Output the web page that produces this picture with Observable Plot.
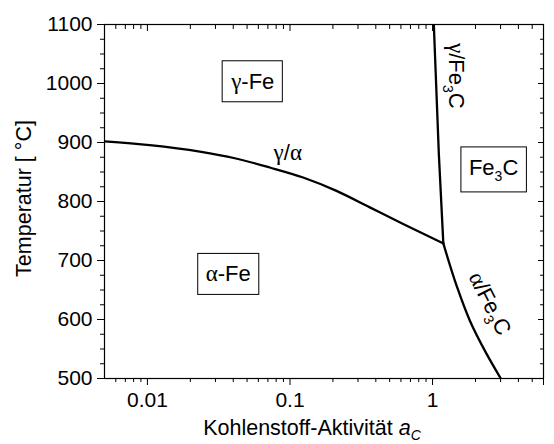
<!DOCTYPE html>
<html>
<head>
<meta charset="utf-8">
<script src="https://cdn.jsdelivr.net/npm/d3@7"></script>
<script src="https://cdn.jsdelivr.net/npm/@observablehq/plot@0.6"></script>
<style>
  body { margin: 0; background: #fff; }
  #chart svg { font-family: "Liberation Sans", Arial, sans-serif; }
</style>
</head>
<body>
<div id="chart"></div>
<script>
// Fe–C phase boundaries: carbon activity a_C against temperature (°C)
const gammaAlphaAc = [0.005, 0.0104, 0.0233, 0.041, 0.0722, 0.1236, 0.212, 0.363, 0.622, 1.19];
const gammaAlphaT  = [902, 895.5, 884.5, 873.3, 857.6, 840.7, 818, 790, 762, 729];

const gammaCementiteAc = [1.021, 1.107, 1.19];
const gammaCementiteT  = [1100, 880, 729];

const alphaCementiteAc = [1.19, 1.488, 1.827, 2.393, 3.01];
const alphaCementiteT  = [729, 654.5, 598, 541.8, 500];

// axis ticks
const xMajorTicks = [0.01, 0.1, 1, 6];
const xTickLabels = ["0.01", "0.1", "1", "6"];
const xMinorTicks = [0.006, 0.007, 0.008, 0.009,
                     0.02, 0.03, 0.04, 0.05, 0.06, 0.07, 0.08, 0.09,
                     0.2, 0.3, 0.4, 0.5, 0.6, 0.7, 0.8, 0.9,
                     2, 3, 4, 5];
const yMajorTicks = [500, 600, 700, 800, 900, 1000, 1100];
const yMinorTicks = [525, 550, 575, 625, 650, 675, 725, 750, 775,
                     825, 850, 875, 925, 950, 975, 1025, 1050, 1075];

// phase-field labels (boxed) and boundary labels
// markup: _X subscript, ~X italic, Greek letters set in a serif face
const regionText = ["γ-Fe", "α-Fe", "Fe_3C"];
const regionAc   = [0.0548, 0.0369, 2.68];
const regionT    = [1003, 676.5, 857];

const boundaryText  = ["γ/α", "γ/Fe_3C", "α/Fe_3C"];
const boundaryAc    = [0.0965, 1.46, 2.52];
const boundaryT     = [882.5, 1013, 627];
const boundaryAngle = [0, 90, 63];

const xTitle = "Kohlenstoff-Aktivität ~a_C";
const yTitle = "Temperatur [ °C]";

const toRows = (xs, ys) => xs.map((x, i) => ({x, y: ys[i]}));
const regions = regionText.map((t, i) => ({t, x: regionAc[i], y: regionT[i]}));
const boundaries = boundaryText.map((t, i) => ({t, x: boundaryAc[i], y: boundaryT[i], a: boundaryAngle[i]}));

const lineStyle = {x: "x", y: "y", stroke: "#000", strokeWidth: 2.3, clip: true};

const chart = Plot.plot({
  width: 554,
  height: 444,
  marginLeft: 104,
  marginRight: 11,
  marginTop: 24,
  marginBottom: 66,
  style: {fontSize: "21px", color: "#000", background: "#fff"},
  x: {type: "log", domain: [0.005, 6]},
  y: {domain: [500, 1100]},
  marks: [
    // outward ticks on bottom and left
    Plot.axisX(xMajorTicks, {anchor: "bottom", tickSize: 7, tickPadding: 7,
      tickFormat: (d) => xTickLabels[xMajorTicks.indexOf(d)], label: null}),
    Plot.axisX(xMinorTicks, {anchor: "bottom", tickSize: 4, text: null, label: null}),
    Plot.axisY(yMajorTicks, {anchor: "left", tickSize: 7, tickPadding: 5, tickFormat: "d", label: null}),
    Plot.axisY(yMinorTicks, {anchor: "left", tickSize: 4, text: null, label: null}),
    // inward ticks on top and right
    Plot.axisX(xMajorTicks, {anchor: "top", tickSize: -6, text: null, label: null}),
    Plot.axisX(xMinorTicks, {anchor: "top", tickSize: -4, text: null, label: null}),
    Plot.axisY(yMajorTicks, {anchor: "right", tickSize: -6, text: null, label: null}),
    Plot.axisY(yMinorTicks, {anchor: "right", tickSize: -4, text: null, label: null}),
    Plot.frame({stroke: "#000", strokeWidth: 1.2}),

    Plot.line(toRows(gammaAlphaAc, gammaAlphaT), {...lineStyle, curve: "monotone-x"}),
    Plot.line(toRows(gammaCementiteAc, gammaCementiteT), {...lineStyle, curve: "monotone-y"}),
    Plot.line(toRows(alphaCementiteAc, alphaCementiteT), {...lineStyle, curve: "monotone-y"}),

    Plot.text(regions, {x: "x", y: "y", text: "t", fill: "#000", fontSize: 22, ariaDescription: "region"}),
    Plot.text(boundaries, {x: "x", y: "y", text: "t", rotate: "a", fill: "#000", fontSize: 22}),

    // axis titles
    Plot.text([yTitle], {frameAnchor: "left", textAnchor: "middle", lineAnchor: "middle",
      text: (d) => d, rotate: -90, dx: -80, dy: -3, fill: "#000", fontSize: 21.5}),
    Plot.text([xTitle], {frameAnchor: "bottom", textAnchor: "middle", lineAnchor: "bottom",
      text: (d) => d, dy: 56, dx: -12, fill: "#000", fontSize: 21.5})
  ]
});

document.getElementById("chart").appendChild(chart);

// turn the small markup into styled tspans
const SVGNS = "http://www.w3.org/2000/svg";
function richText(el) {
  const src = el.textContent;
  if (!/[_~γα]/.test(src)) return;
  el.textContent = "";
  const parts = src.match(/_.|~.|[γα]|[^_~γα]+/g);
  let shift = 0, prevItalic = false;
  for (const p of parts) {
    const t = document.createElementNS(SVGNS, "tspan");
    let dy;
    if (p[0] === "_") {
      t.textContent = p[1];
      t.setAttribute("font-size", 14);
      if (prevItalic) t.setAttribute("font-style", "italic");
      const sub = prevItalic ? 5 : 6;
      dy = sub - shift; shift = sub;
    } else {
      dy = -shift; shift = 0;
      prevItalic = false;
      if (p[0] === "~") {
        t.textContent = p[1];
        t.setAttribute("font-style", "italic");
        prevItalic = true;
      } else if (/[γα]/.test(p)) {
        t.textContent = p;
        t.setAttribute("font-family", "'Liberation Serif', 'Times New Roman', serif");
        t.setAttribute("font-size", 23);
      } else {
        t.textContent = p;
      }
    }
    if (dy) t.setAttribute("dy", dy);
    el.appendChild(t);
  }
}
d3.select(chart).selectAll("text").each(function () { richText(this); });

// frame each phase-field label with a thin box
d3.select(chart).selectAll("g[aria-description=region] text").each(function () {
  const b = this.getBBox();
  const padX = 8, padY = 8;
  const r = document.createElementNS(SVGNS, "rect");
  r.setAttribute("x", b.x - padX);
  r.setAttribute("y", b.y - padY);
  r.setAttribute("width", b.width + 2 * padX);
  r.setAttribute("height", b.height + 2 * padY);
  r.setAttribute("fill", "#fff");
  r.setAttribute("stroke", "#000");
  r.setAttribute("stroke-width", 1);
  if (this.getAttribute("transform")) r.setAttribute("transform", this.getAttribute("transform"));
  this.parentNode.insertBefore(r, this);
});
</script>
</body>
</html>
